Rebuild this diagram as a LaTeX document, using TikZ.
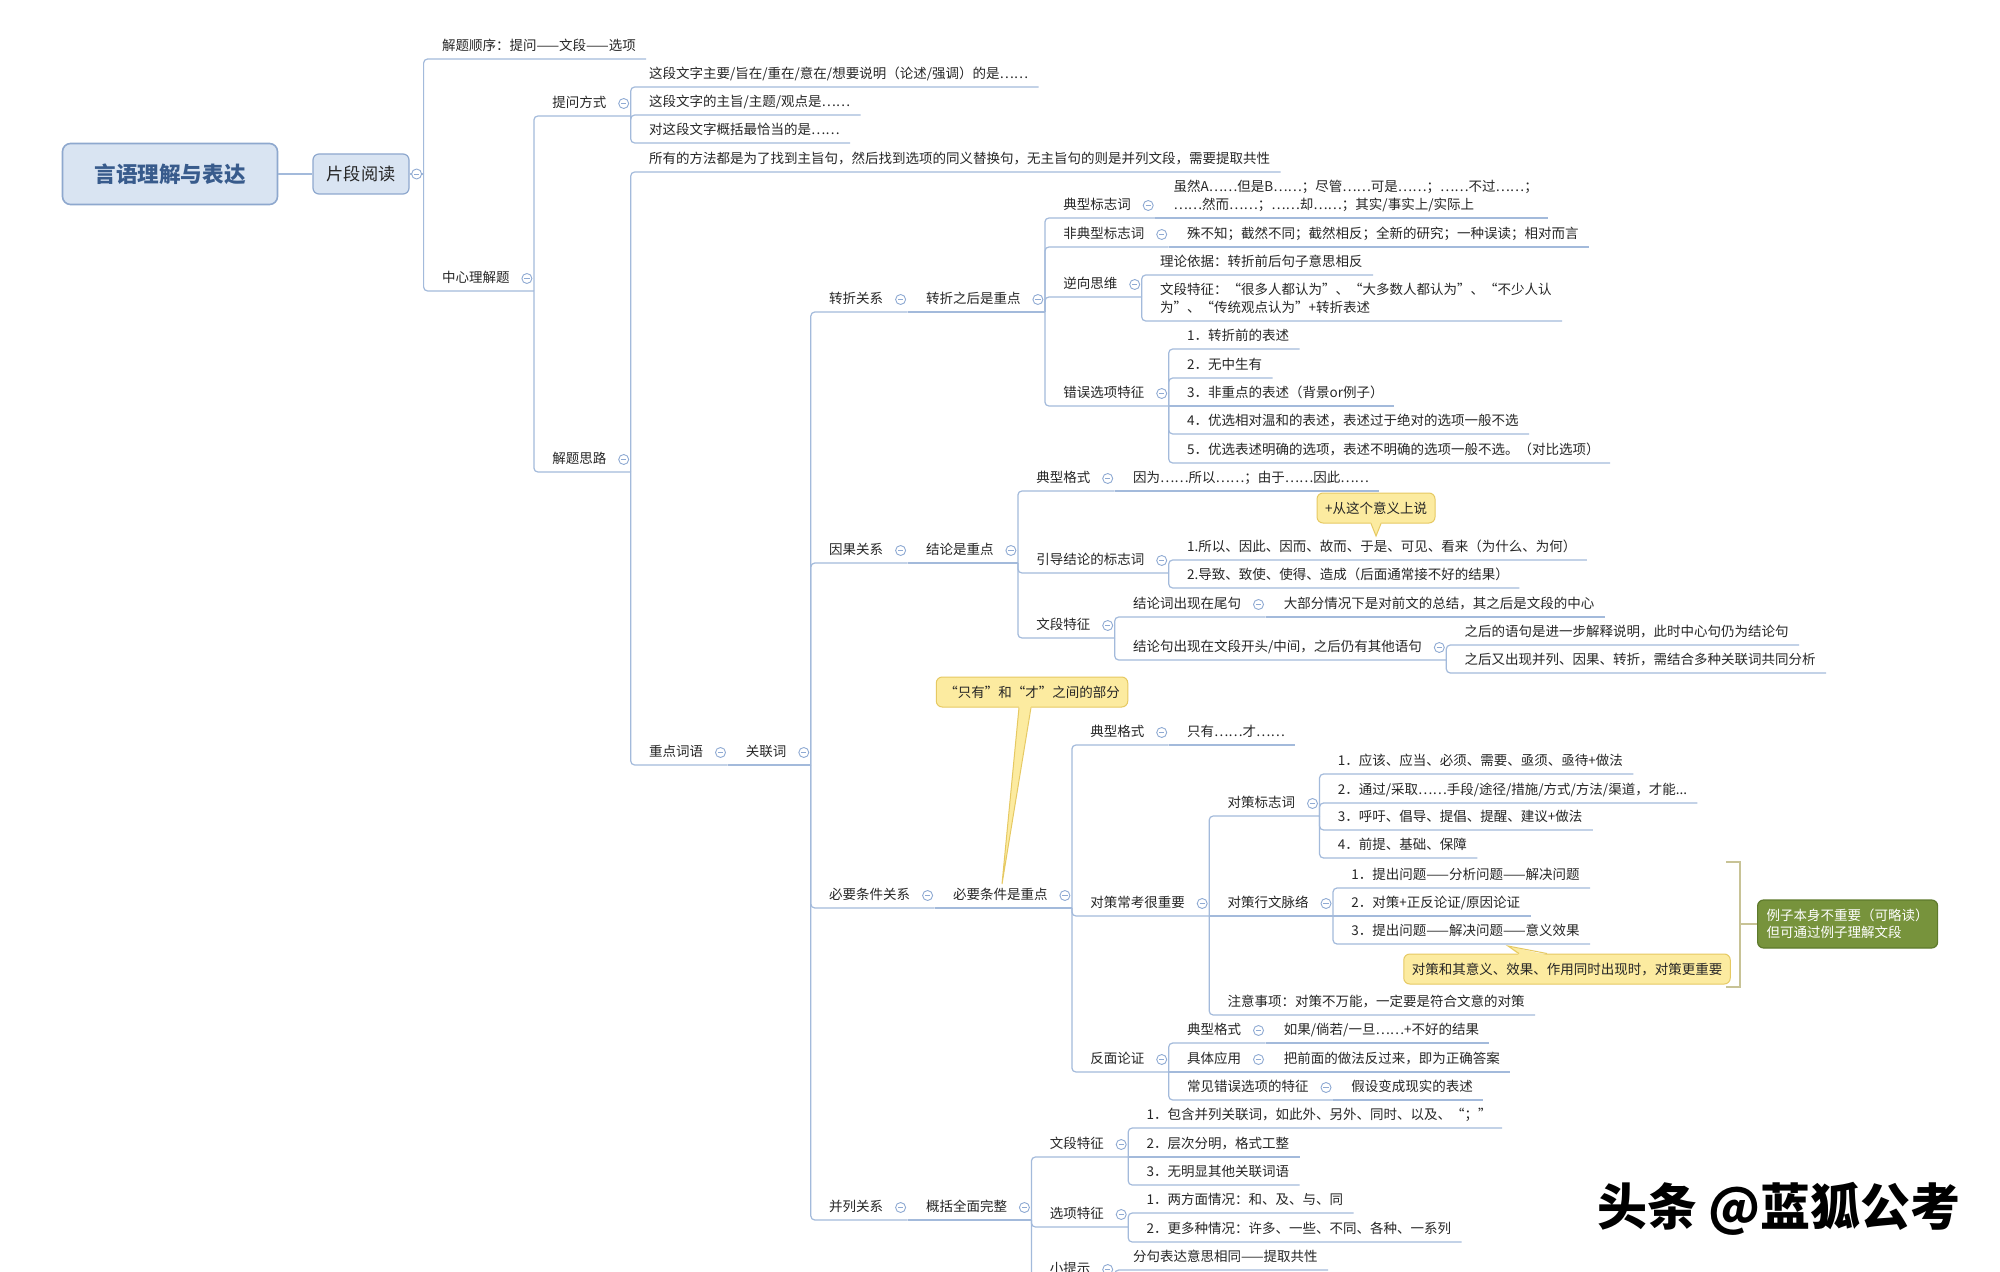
\documentclass[tikz,border=0pt]{standalone}
\usepackage{fontspec}
\setmainfont{Noto Sans CJK SC}
\newfontfamily\slfont{Noto Sans CJK SC}[AutoFakeSlant=0.2]
\definecolor{linkc}{HTML}{A3BADB}
\definecolor{foldc}{HTML}{8FAAD3}
\definecolor{txtc}{HTML}{262626}
\definecolor{rootf}{HTML}{D9E4F2}
\definecolor{rootd}{HTML}{8EA8CE}
\definecolor{roott}{HTML}{385B8C}
\definecolor{notef}{HTML}{FCEBA0}
\definecolor{noted}{HTML}{E6C962}
\definecolor{grnf}{HTML}{77933C}
\definecolor{grnd}{HTML}{5E7A2C}
\definecolor{brkc}{HTML}{C8C396}
\tikzset{
	leaf/.style={anchor=south west, inner xsep=5pt, inner ysep=2.7pt, text depth=0.15em, text=txtc, font=\fontsize{6.75}{8.75}\selectfont},
	sub/.style={leaf, execute at end node={\hspace{7pt}}},
	link/.style={draw=linkc, line width=0.6pt, rounded corners=2pt},
	fold/.style={draw=foldc, line width=0.45pt, fill=white},
	root/.style={rounded corners=4pt, fill=rootf, draw=rootd, line width=0.8pt, minimum width=107.5pt, minimum height=30.5pt, font=\fontsize{10.8}{12}\selectfont\bfseries, text=roott},
	box/.style={rounded corners=3pt, fill=rootf, draw=rootd, line width=0.6pt, minimum width=48pt, minimum height=20pt, font=\fontsize{8.6}{10}\selectfont, text=txtc},
	note/.style={rounded corners=3pt, fill=notef, draw=noted, line width=0.5pt, text=txtc, font=\fontsize{6.75}{8.75}\selectfont, inner xsep=4pt, minimum height=15pt},
	gbox/.style={anchor=west, rounded corners=3pt, fill=grnf, draw=grnd, line width=0.6pt, text=white, font=\slfont\fontsize{6.75}{8.5}\selectfont, align=left, inner xsep=4.5pt, minimum height=24pt},
	brk/.style={draw=brkc, line width=0.7pt}
}
\begin{document}
\begin{tikzpicture}[x=0.5pt,y=-0.5pt]
	\path[use as bounding box,fill=white] (0,0) rectangle (2000,1272);
	%% root
	\node[root] (yy) at (170,174) {言语理解与表达};
	\node[box] (pd) at (361,174) {片段阅读};
	\coordinate (pdb) at ([xshift=7pt]pd.east);
	\draw[link] (yy) -- (pd);
	\draw[link] (pd) -- (pdb);
	\draw[fold] ([xshift=3.5pt]pd.east) circle (2.5pt);
	\draw[foldc,line width=0.45pt] ([xshift=2.2pt]pd.east) -- ([xshift=4.8pt]pd.east);
	%% first level
	\node[leaf] (jtsx) at ([xshift=4pt]pdb |- 0,59) {解题顺序：提问——文段——选项};
	\node[sub] (zxlj) at ([xshift=4pt]pdb |- 0,291) {中心理解题};
	\node[sub] (twfs) at ([xshift=4pt]zxlj.south east |- 0,116) {提问方式};
	\node[sub] (jtsl) at ([xshift=4pt]zxlj.south east |- 0,472) {解题思路};
	\node[leaf] (q1) at ([xshift=4pt]twfs.south east |- 0,87) {这段文字主要/旨在/重在/意在/想要说明（论述/强调）的是……};
	\node[leaf] (q2) at ([xshift=4pt]twfs.south east |- 0,115) {这段文字的主旨/主题/观点是……};
	\node[leaf] (q3) at ([xshift=4pt]twfs.south east |- 0,143) {对这段文字概括最恰当的是……};
	\node[leaf] (all) at ([xshift=4pt]jtsl.south east |- 0,172) {所有的方法都是为了找到主旨句，然后找到选项的同义替换句，无主旨句的则是并列文段，需要提取共性};
	\node[sub] (zdcy) at ([xshift=4pt]jtsl.south east |- 0,765) {重点词语};
	\node[sub] (glc) at ([xshift=4pt]zdcy.south east) {关联词};
	%% relations
	\node[sub] (zzgx) at ([xshift=4pt]glc.south east |- 0,312) {转折关系};
	\node[sub] (yggx) at ([xshift=4pt]glc.south east |- 0,563) {因果关系};
	\node[sub] (byxg) at ([xshift=4pt]glc.south east |- 0,908) {必要条件关系};
	\node[sub] (blgx) at ([xshift=4pt]glc.south east |- 0,1220) {并列关系};
	%% turning
	\node[sub] (zzzh) at ([xshift=4pt]zzgx.south east) {转折之后是重点};
	\node[sub] (dxbz) at ([xshift=4pt]zzzh.south east |- 0,218) {典型标志词};
	\node[leaf,align=left] (dxbzt) at ([xshift=4pt]dxbz.south east) {虽然A……但是B……；尽管……可是……；……不过……；\\……然而……；……却……；其实/事实上/实际上};
	\node[sub] (fdx) at ([xshift=4pt]zzzh.south east |- 0,247) {非典型标志词};
	\node[leaf] (fdxt) at ([xshift=4pt]fdx.south east) {殊不知；截然不同；截然相反；全新的研究；一种误读；相对而言};
	\node[sub] (nxsw) at ([xshift=4pt]zzzh.south east |- 0,297) {逆向思维};
	\node[leaf] (llyj) at ([xshift=4pt]nxsw.south east |- 0,275) {理论依据：转折前后句子意思相反};
	\node[leaf,align=left] (nxtz) at ([xshift=4pt]nxsw.south east |- 0,321) {文段特征：“很多人都认为”、“大多数人都认为”、“不少人认\\为”、“传统观点认为”+转折表述};
	\node[sub] (cwxx) at ([xshift=4pt]zzzh.south east |- 0,406) {错误选项特征};
	\node[leaf] (e1) at ([xshift=4pt]cwxx.south east |- 0,349) {1．转折前的表述};
	\node[leaf] (e2) at ([xshift=4pt]cwxx.south east |- 0,378) {2．无中生有};
	\node[leaf] (e3) at ([xshift=4pt]cwxx.south east |- 0,406) {3．非重点的表述（背景or例子）};
	\node[leaf] (e4) at ([xshift=4pt]cwxx.south east |- 0,434) {4．优选相对温和的表述，表述过于绝对的选项一般不选};
	\node[leaf] (e5) at ([xshift=4pt]cwxx.south east |- 0,463) {5．优选表述明确的选项，表述不明确的选项一般不选。（对比选项）};
	%% cause
	\node[sub] (jlsz) at ([xshift=4pt]yggx.south east) {结论是重点};
	\node[sub] (dxgs1) at ([xshift=4pt]jlsz.south east |- 0,491) {典型格式};
	\node[leaf] (ygt) at ([xshift=4pt]dxgs1.south east) {因为……所以……；由于……因此……};
	\node[sub] (ydjl) at ([xshift=4pt]jlsz.south east |- 0,573) {引导结论的标志词};
	\node[leaf] (yd1) at ([xshift=4pt]ydjl.south east |- 0,560) {1.所以、因此、因而、故而、于是、可见、看来（为什么、为何）};
	\node[leaf] (yd2) at ([xshift=4pt]ydjl.south east |- 0,588) {2.导致、致使、使得、造成（后面通常接不好的结果）};
	\node[sub] (wdtz1) at ([xshift=4pt]jlsz.south east |- 0,638) {文段特征};
	\node[sub] (jlc) at ([xshift=4pt]wdtz1.south east |- 0,617) {结论词出现在尾句};
	\node[leaf] (jlct) at ([xshift=4pt]jlc.south east) {大部分情况下是对前文的总结，其之后是文段的中心};
	\node[sub] (jlj) at ([xshift=4pt]wdtz1.south east |- 0,660) {结论句出现在文段开头/中间，之后仍有其他语句};
	\node[leaf] (jj1) at ([xshift=4pt]jlj.south east |- 0,645) {之后的语句是进一步解释说明，此时中心句仍为结论句};
	\node[leaf] (jj2) at ([xshift=4pt]jlj.south east |- 0,673) {之后又出现并列、因果、转折，需结合多种关联词共同分析};
	%% necessary condition
	\node[sub] (bytj) at ([xshift=4pt]byxg.south east) {必要条件是重点};
	\node[sub] (dxgs2) at ([xshift=4pt]bytj.south east |- 0,745) {典型格式};
	\node[leaf] (zyt) at ([xshift=4pt]dxgs2.south east) {只有……才……};
	\node[sub] (dcck) at ([xshift=4pt]bytj.south east |- 0,916) {对策常考很重要};
	\node[sub] (dcbz) at ([xshift=4pt]dcck.south east |- 0,816) {对策标志词};
	\node[leaf] (b1) at ([xshift=4pt]dcbz.south east |- 0,774) {1．应该、应当、必须、需要、亟须、亟待+做法};
	\node[leaf] (b2) at ([xshift=4pt]dcbz.south east |- 0,803) {2．通过/采取……手段/途径/措施/方式/方法/渠道，才能...};
	\node[leaf] (b3) at ([xshift=4pt]dcbz.south east |- 0,830) {3．呼吁、倡导、提倡、提醒、建议+做法};
	\node[leaf] (b4) at ([xshift=4pt]dcbz.south east |- 0,858) {4．前提、基础、保障};
	\node[sub] (dcxw) at ([xshift=4pt]dcck.south east) {对策行文脉络};
	\node[leaf] (x1) at ([xshift=4pt]dcxw.south east |- 0,888) {1．提出问题——分析问题——解决问题};
	\node[leaf] (x2) at ([xshift=4pt]dcxw.south east) {2．对策+正反论证/原因论证};
	\node[leaf] (x3) at ([xshift=4pt]dcxw.south east |- 0,944) {3．提出问题——解决问题——意义效果};
	\node[leaf] (zysx) at ([xshift=4pt]dcck.south east |- 0,1015) {注意事项：对策不万能，一定要是符合文意的对策};
	\node[sub] (fmlz) at ([xshift=4pt]bytj.south east |- 0,1072) {反面论证};
	\node[sub] (dxgs3) at ([xshift=4pt]fmlz.south east |- 0,1043) {典型格式};
	\node[leaf] (rgt) at ([xshift=4pt]dxgs3.south east) {如果/倘若/一旦……+不好的结果};
	\node[sub] (jtyy) at ([xshift=4pt]fmlz.south east) {具体应用};
	\node[leaf] (bqt) at ([xshift=4pt]jtyy.south east) {把前面的做法反过来，即为正确答案};
	\node[sub] (cjcw) at ([xshift=4pt]fmlz.south east |- 0,1100) {常见错误选项的特征};
	\node[leaf] (jsbt) at ([xshift=4pt]cjcw.south east) {假设变成现实的表述};
	%% parallel
	\node[sub] (gkqm) at ([xshift=4pt]blgx.south east) {概括全面完整};
	\node[sub] (wdtz2) at ([xshift=4pt]gkqm.south east |- 0,1157) {文段特征};
	\node[leaf] (p1) at ([xshift=4pt]wdtz2.south east |- 0,1128) {1．包含并列关联词，如此外、另外、同时、以及、“；”};
	\node[leaf] (p2) at ([xshift=4pt]wdtz2.south east) {2．层次分明，格式工整};
	\node[leaf] (p3) at ([xshift=4pt]wdtz2.south east |- 0,1185) {3．无明显其他关联词语};
	\node[sub] (xxtz) at ([xshift=4pt]gkqm.south east |- 0,1227) {选项特征};
	\node[leaf] (o1) at ([xshift=4pt]xxtz.south east |- 0,1213) {1．两方面情况：和、及、与、同};
	\node[leaf] (o2) at ([xshift=4pt]xxtz.south east |- 0,1242) {2．更多种情况：许多、一些、不同、各种、一系列};
	\node[sub] (xts) at ([xshift=4pt]gkqm.south east |- 0,1282) {小提示};
	\node[leaf] (fjbd) at ([xshift=4pt]xts.south east |- 0,1270) {分句表达意思相同——提取共性};
	%%% links
	\draw[link] (pdb) |- (jtsx.south east);
	\draw[link] (pdb) |- (zxlj.south east);
	\foreach \a/\b in {zxlj/twfs, zxlj/jtsl, twfs/q1, twfs/q2, twfs/q3, jtsl/all, jtsl/zdcy,
		glc/zzgx, glc/yggx, glc/byxg, glc/blgx, zzzh/dxbz, zzzh/fdx, zzzh/nxsw, zzzh/cwxx,
		nxsw/llyj, nxsw/nxtz, cwxx/e1, cwxx/e2, cwxx/e4, cwxx/e5, jlsz/dxgs1, jlsz/ydjl, jlsz/wdtz1,
		ydjl/yd1, ydjl/yd2, wdtz1/jlc, wdtz1/jlj, jlj/jj1, jlj/jj2, bytj/dxgs2, bytj/dcck, bytj/fmlz,
		dcck/dcbz, dcck/zysx, dcbz/b1, dcbz/b2, dcbz/b3, dcbz/b4, dcxw/x1, dcxw/x3, fmlz/dxgs3, fmlz/cjcw,
		gkqm/wdtz2, gkqm/xxtz, gkqm/xts, wdtz2/p1, wdtz2/p3, xxtz/o1, xxtz/o2, xts/fjbd}
		\draw[link] (\a.south east) |- (\b.south east);
	\foreach \a/\b in {zdcy/glc, zzgx/zzzh, dxbz/dxbzt, fdx/fdxt, cwxx/e3, yggx/jlsz, dxgs1/ygt, jlc/jlct,
		byxg/bytj, dxgs2/zyt, dcck/dcxw, dcxw/x2, fmlz/jtyy, dxgs3/rgt, jtyy/bqt, cjcw/jsbt, blgx/gkqm, wdtz2/p2}
		\draw[link] (\a.south east) -- (\b.south east);
	%%% fold marks
	\foreach \n in {zxlj, twfs, jtsl, zdcy, glc, zzgx, zzzh, dxbz, fdx, nxsw, cwxx, yggx, jlsz, dxgs1, ydjl,
		wdtz1, jlc, jlj, byxg, bytj, dxgs2, dcck, dcbz, dcxw, fmlz, dxgs3, jtyy, cjcw, blgx, gkqm, wdtz2, xxtz, xts} {
		\draw[fold] ([xshift=-3.5pt,yshift=6.25pt]\n.south east) circle (2.5pt);
		\draw[foldc,line width=0.45pt] ([xshift=-4.8pt,yshift=6.25pt]\n.south east) -- ([xshift=-2.2pt,yshift=6.25pt]\n.south east);
	}
	%%% callouts
	\node[note] (n1) at (1376,508) {+从这个意义上说};
	\coordinate (n1t) at (1376,536);
	\fill[notef] ([xshift=-2.5pt,yshift=0.8pt]n1.south) -- (n1t) -- ([xshift=2.5pt,yshift=0.8pt]n1.south) -- cycle;
	\draw[noted,line width=0.5pt] ([xshift=-2.5pt]n1.south) -- (n1t) -- ([xshift=2.5pt]n1.south);
	\node[note] (n2) at (1032,692) {“只有”和“才”之间的部分};
	\coordinate (n2t) at (1002,884);
	\fill[notef] ([xshift=-6.5pt,yshift=0.8pt]n2.south) -- (n2t) -- ([xshift=-0.5pt,yshift=0.8pt]n2.south) -- cycle;
	\draw[noted,line width=0.5pt] ([xshift=-6.5pt]n2.south) -- (n2t) -- ([xshift=-0.5pt]n2.south);
	\node[note] (n3) at (1567,969) {对策和其意义、效果、作用同时出现时，对策更重要};
	\coordinate (n3t) at (1508,946);
	\fill[notef] ([xshift=-24pt,yshift=-0.8pt]n3.north) -- (n3t) -- ([xshift=-10pt,yshift=-0.8pt]n3.north) -- cycle;
	\draw[noted,line width=0.5pt] ([xshift=-24pt]n3.north) -- (n3t) -- ([xshift=-10pt]n3.north);
	%%% summary
	\node[gbox] (gb) at (1757,924) {例子本身不重要（可略读）\\但可通过例子理解文段};
	\draw[brk] (1726,862) -- (1740,862) -- (1740,987) -- (1726,987);
	\draw[brk] (1740,924) -- (gb.west);
	%%% mark
	\node[font=\fontsize{25}{28}\selectfont\bfseries] (tt) at (1779,1209) {头条 @蓝狐公考};
\end{tikzpicture}
\end{document}
